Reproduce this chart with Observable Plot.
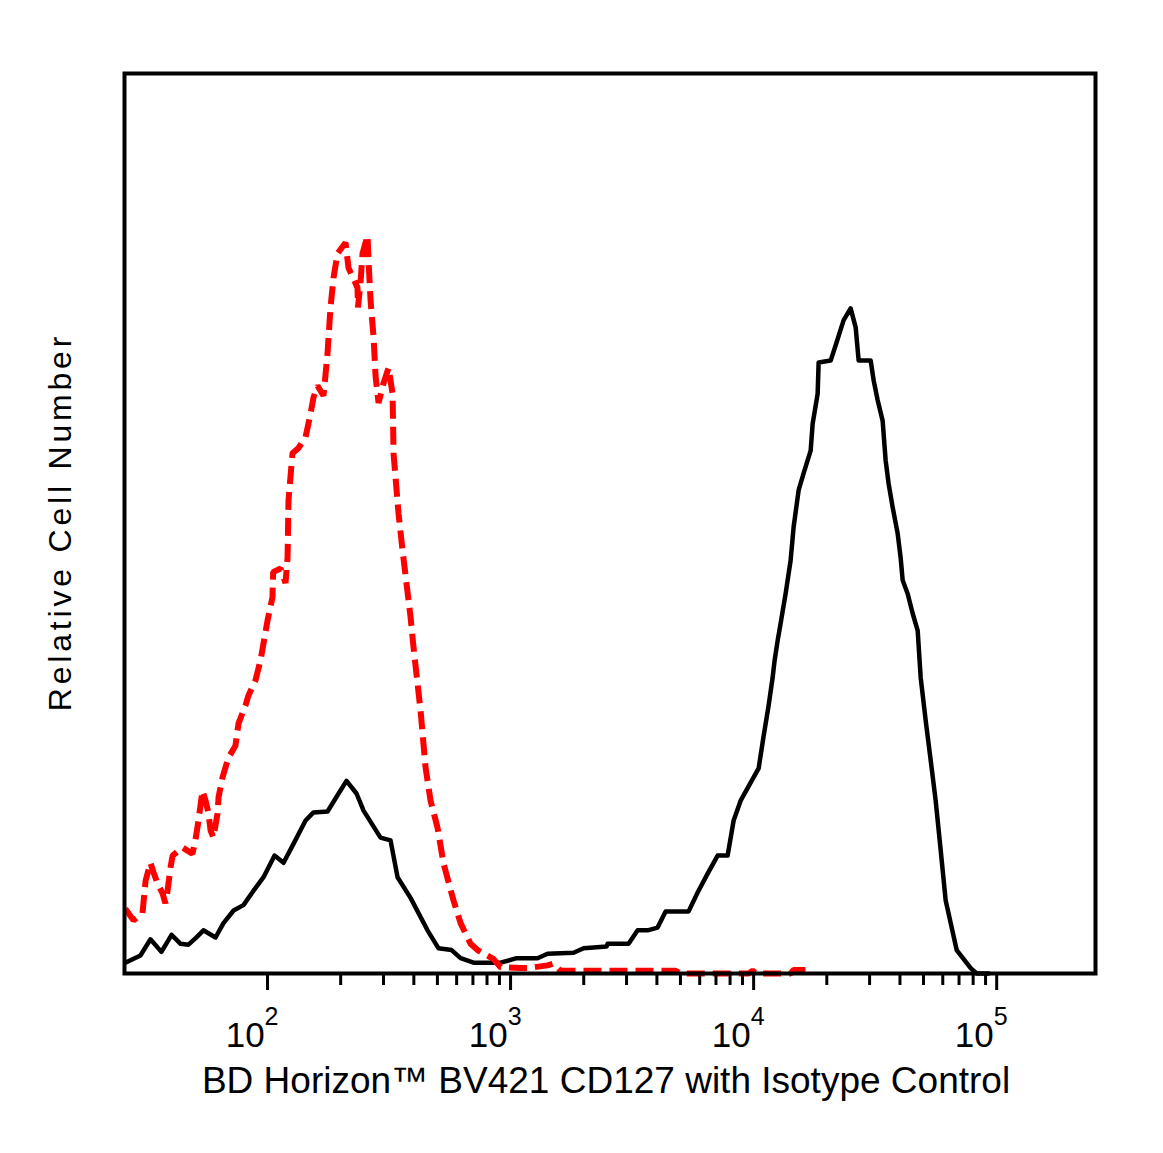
<!DOCTYPE html>
<html>
<head>
<meta charset="utf-8">
<script src="https://cdn.jsdelivr.net/npm/d3@7"></script>
<script src="https://cdn.jsdelivr.net/npm/@observablehq/plot@0.6"></script>
<style>
  body { margin: 0; background: #fff; }
  g[aria-label="x-axis tick label"] text {
    font-family: "Liberation Sans Narrow", "Arial Narrow", "Liberation Sans", Arial, sans-serif;
    font-size: 35px;
  }
</style>
</head>
<body>
<div id="chart"></div>
<script>
// ---- Data ----
// CD127 (BV421) stained sample – solid black histogram
const cd127X = [26.0, 30.0, 33.0, 36.6, 40.3, 43.9, 47.3, 50.5, 54.5, 61.1,
  65.9, 72.5, 79.6, 87.6, 96.3, 106.9, 116.4, 127.9, 143.4, 154.6,
  176.6, 194.1, 211.4, 232.4, 248.4, 291.7, 320.7, 342.8, 387.7, 455.3,
  505.4, 571.8, 622.8, 704.2, 909.5, 1059, 1291, 1420, 1817, 1997,
  2484, 2507, 3059, 3332, 3662, 4026, 4344, 5401, 5884, 6468,
  7111, 7816, 8274, 8841, 9721, 10486, 10996, 11528,
  11974, 12201, 12556, 12914, 13540, 14197, 14605, 15318, 16063, 17165,
  17494, 18338, 18512, 20745, 21750, 23465, 25072, 26290, 27047, 30306,
  31175, 32384, 33950, 34927, 35935, 37325, 39135, 40258, 41035, 43030,
  45121, 47311, 48670, 51031, 53509, 56105, 58832, 61684, 68454, 78163,
  82746, 92683];
const cd127Y = [1.2, 2.0, 3.8, 2.4, 4.3, 3.3, 3.2, 3.9, 4.8, 4.0,
  5.6, 7.0, 7.6, 9.2, 10.7, 13.1, 12.3, 14.4, 17.0, 17.9,
  18.0, 19.8, 21.4, 20.0, 18.1, 15.1, 14.8, 10.7, 8.4, 4.8,
  2.8, 2.6, 1.7, 1.2, 1.2, 1.7, 1.7, 2.2, 2.3, 2.8,
  3.0, 3.3, 3.3, 4.8, 4.8, 5.1, 6.9, 6.9, 9.0, 11.1,
  13.1, 13.1, 17.0, 19.2, 21.2, 22.8, 26.4, 29.8,
  32.9, 34.8, 37.0, 38.9, 42.2, 45.9, 49.6, 53.7, 55.6, 58.1,
  61.1, 64.4, 67.9, 68.1, 69.8, 72.6, 73.9, 71.8, 68.1, 68.1,
  65.9, 63.7, 61.4, 57.0, 54.4, 51.8, 48.9, 46.2, 43.7, 42.2,
  40.0, 38.1, 32.9, 28.1, 23.7, 19.2, 13.7, 8.1, 2.6, 0.6,
  0, 0];

// Isotype control – red dashed histogram
const isoX = [26.0, 28.1, 30.6, 31.5, 33.0, 34.0, 35.3, 37.0, 38.0, 38.8,
  39.9, 40.7, 44.7, 49.1, 50.5, 52.0, 54.0, 55.6, 57.2, 58.3,
  59.9, 62.3, 62.9, 65.3, 69.1, 73.8, 76.0, 81.2, 83.5, 89.3,
  93.6, 100, 104.8, 105.5, 113.1, 118.6, 120.9, 122.0, 126.7, 134.2,
  143.4, 150.3, 154.6, 160.6, 170.0, 176.6, 181.6, 186.9, 194.1, 209.4,
  215.4, 225.9, 234.6, 235.5, 241.3, 246.0, 257.9, 260.4, 265.4, 273.1,
  278.3, 286.3, 300.2, 314.8, 327.0, 330.0, 346.0, 359.4, 387.7, 398.9,
  426.3, 446.9, 468.6, 500.6, 530.2, 582.7, 622.8, 684.6, 731.6, 851.2,
  909.5, 1099, 1175, 1420, 1503, 1606, 4775, 5006, 9537, 9906,
  10287, 14197, 14605, 16368, 17165];
const isoY = [7.2, 5.9, 6.7, 10.3, 12.3, 11.2, 10.0, 8.9, 7.8, 9.2,
  11.8, 13.1, 14.0, 13.3, 14.8, 17.0, 20.3, 19.2, 17.8, 15.9,
  15.1, 17.8, 19.6, 21.8, 24.0, 25.3, 27.8, 29.8, 30.9, 32.6,
  34.8, 39.2, 41.8, 44.6, 45.0, 43.4, 46.2, 52.6, 57.8, 58.4,
  59.6, 62.2, 64.0, 65.3, 64.2, 68.9, 74.0, 77.3, 80.0, 81.2,
  78.4, 77.2, 76.2, 74.0, 76.7, 80.0, 82.0, 79.2, 74.8, 70.7,
  66.4, 63.4, 65.6, 67.3, 64.4, 57.8, 51.1, 47.0, 39.6, 36.2,
  29.2, 22.9, 19.2, 16.2, 12.2, 8.1, 5.6, 3.3, 2.6, 1.6,
  0.7, 0.6, 0.6, 0.9, 1.1, 0.3, 0.3, 0, 0, 0.3,
  0, 0, 0.4, 0.4, 0];

const majorTicks = [100, 1000, 10000, 100000];
const tickBase = "10";
const tickPowers = ["2", "3", "4", "5"];
const tickLabels = ["10²", "10³", "10⁴", "10⁵"];
const minorTicks = [200, 300, 400, 500, 600, 700, 800, 900,
  2000, 3000, 4000, 5000, 6000, 7000, 8000, 9000,
  20000, 30000, 40000, 50000, 60000, 70000, 80000, 90000];
const xDomain = [25.8, 255000];
const yDomain = [0, 100];
const xTitle = "BD Horizon™ BV421 CD127 with Isotype Control";
const yTitle = "Relative Cell Number";

// ---- Build tables ----
const cd127 = cd127X.map((x, i) => ({x, y: cd127Y[i]}));
const iso = isoX.map((x, i) => ({x, y: isoY[i]}));

const chart = Plot.plot({
  width: 1163,
  height: 1153,
  marginLeft: 124,
  marginRight: 68,
  marginTop: 73,
  marginBottom: 180,
  style: {fontFamily: "'Liberation Sans', Arial, sans-serif", background: "#fff", color: "#000"},
  x: {type: "log", domain: xDomain},
  y: {domain: yDomain, axis: null},
  marks: [
    Plot.line(cd127, {x: "x", y: "y", stroke: "#000", strokeWidth: 4.5}),
    Plot.line(iso, {x: "x", y: "y", stroke: "#ff0000", strokeWidth: 6,
      strokeDasharray: "18,8", strokeLinecap: "butt", strokeLinejoin: "miter"}),
    Plot.frame({stroke: "#000", strokeWidth: 4}),
    Plot.axisX({ticks: minorTicks, tickSize: 12, strokeWidth: 3, tickFormat: () => "", label: null}),
    Plot.axisX({ticks: majorTicks, tickSize: 17, strokeWidth: 3, tickPadding: 32,
      tickFormat: d => tickLabels[majorTicks.indexOf(d)], textAnchor: "end",
      fill: "#000", label: null}),
    Plot.text([xTitle], {text: d => d, frameAnchor: "bottom", dy: 108, dx: -4,
      fontSize: 37, fill: "#000", lineAnchor: "middle", textAnchor: "middle"}),
    Plot.text([yTitle], {text: d => d, frameAnchor: "left", rotate: -90, dx: -64, dy: -1.5,
      fontSize: 32, fill: "#000", lineAnchor: "middle", textAnchor: "middle"})
  ]
});

// Render superscript exponents as real raised text, shifted so the exponent sits just right of the tick
d3.select(chart).selectAll('g[aria-label="x-axis tick label"] text').each(function () {
  const t = d3.select(this);
  const i = tickLabels.indexOf(t.text());
  if (i < 0) return;
  t.text(tickBase).attr("dx", 11);
  t.append("tspan").attr("font-size", "25px").attr("dy", "-22").text(tickPowers[i]);
});
// Wide letter spacing of the y title, as in the reference
d3.select(chart).selectAll("text").filter(function () { return this.textContent === yTitle; })
  .style("letter-spacing", "3.8px");

document.getElementById("chart").appendChild(chart);
</script>
</body>
</html>
